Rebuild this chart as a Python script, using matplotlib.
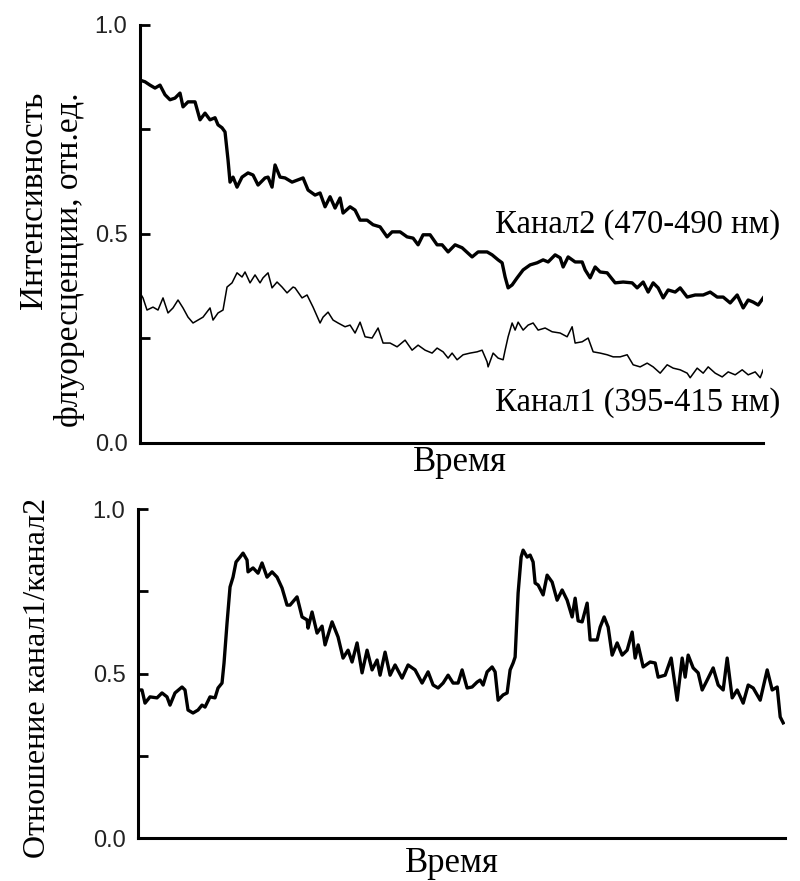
import numpy as np
import matplotlib.pyplot as plt

plt.rcParams['font.family'] = ['Liberation Sans', 'DejaVu Sans']

# Top panel: time (arbitrary units), fluorescence intensity (rel. units)
t_ch2 = [0, 5, 10, 15, 20, 25, 30, 35, 40, 43, 48, 55, 60, 65, 70, 75, 78, 82, 85, 88,
         90, 93, 97, 102, 108, 113, 118, 125, 128, 132, 135, 140, 145, 152,
         163, 168, 175, 180, 185, 190, 195, 200, 203, 210, 215, 220, 227, 233, 240, 247,
         252, 260, 267, 273, 278, 283, 290, 297, 302, 308,
         315, 322, 332, 338, 347, 352, 358, 362, 365, 368, 372, 377, 383, 390, 397, 403,
         408, 415, 420, 423, 428, 435, 442, 445, 450, 455,
         460, 467, 475, 483, 492, 497, 503, 508, 513, 518, 523, 528, 535, 540, 547, 555,
         563, 570, 577, 583, 590, 597, 603, 608, 613, 618, 623]
ch2 = [0.868, 0.864, 0.856, 0.849, 0.856, 0.833, 0.821, 0.825, 0.837, 0.804, 0.816, 0.816,
       0.773, 0.789, 0.773, 0.778, 0.761, 0.754, 0.744, 0.677, 0.624, 0.636, 0.612, 0.636,
       0.646, 0.641, 0.617, 0.634, 0.636, 0.612, 0.665, 0.636, 0.634, 0.624,
       0.634, 0.605, 0.593, 0.598, 0.565, 0.589, 0.562, 0.586, 0.550, 0.565, 0.557, 0.533,
       0.533, 0.522, 0.517, 0.493, 0.505, 0.505, 0.493, 0.490, 0.474, 0.498, 0.498, 0.474,
       0.474, 0.457,
       0.474, 0.467, 0.445, 0.457, 0.457, 0.450, 0.438, 0.431, 0.397, 0.371, 0.378, 0.395,
       0.414, 0.426, 0.431, 0.438, 0.433, 0.450, 0.443, 0.421, 0.445, 0.433, 0.433, 0.414,
       0.395, 0.421,
       0.409, 0.407, 0.383, 0.385, 0.383, 0.371, 0.385, 0.361, 0.383, 0.371, 0.347, 0.366,
       0.361, 0.371, 0.349, 0.354, 0.354, 0.361, 0.349, 0.349, 0.335, 0.354, 0.323, 0.342,
       0.337, 0.330, 0.347]

t_ch1 = [0, 3, 7, 13, 18, 23, 28, 33, 38, 43, 48, 53, 58, 63, 70, 73, 78, 83, 87, 92, 97,
         102, 105, 110, 115, 120, 123, 128, 132, 137, 142, 147, 153,
         155, 162, 167, 173, 180, 183, 188, 193, 198, 205, 210, 215, 220, 225, 232, 238,
         243, 250, 257, 265, 272, 278, 285, 292, 297, 303, 308,
         312, 317, 323, 330, 337, 342, 347, 348, 353, 358, 363, 365, 368, 372, 375, 378,
         383, 388, 393, 398, 405, 412, 420, 427, 432, 435, 442, 448, 453, 460,
         467, 473, 480, 487, 493, 500, 507, 513, 520, 527, 533, 540, 547, 550, 557, 563,
         568, 575, 582, 588, 595, 602, 608, 615, 620, 623]
ch1 = [0.359, 0.347, 0.318, 0.325, 0.318, 0.347, 0.311, 0.323, 0.342, 0.323, 0.301, 0.287,
       0.294, 0.301, 0.323, 0.294, 0.311, 0.318, 0.373, 0.383, 0.407, 0.397, 0.409, 0.383,
       0.402, 0.383, 0.395, 0.407, 0.371, 0.385, 0.373, 0.359, 0.373,
       0.371, 0.347, 0.354, 0.325, 0.287, 0.301, 0.313, 0.294, 0.287, 0.278, 0.282, 0.263,
       0.289, 0.254, 0.251, 0.275, 0.239, 0.239, 0.230, 0.246, 0.222, 0.234, 0.222, 0.215,
       0.227, 0.218, 0.203,
       0.215, 0.199, 0.211, 0.215, 0.218, 0.222, 0.194, 0.182, 0.215, 0.203, 0.199, 0.222,
       0.254, 0.287, 0.270, 0.289, 0.270, 0.282, 0.287, 0.270, 0.275, 0.266, 0.263, 0.254,
       0.278, 0.239, 0.242, 0.251, 0.218, 0.215,
       0.211, 0.206, 0.206, 0.211, 0.187, 0.182, 0.191, 0.182, 0.167, 0.187, 0.179, 0.175,
       0.167, 0.156, 0.179, 0.167, 0.182, 0.167, 0.158, 0.170, 0.163, 0.175, 0.163, 0.170,
       0.156, 0.175]

# Bottom panel: ratio channel1/channel2
t_ratio = [0, 4, 7, 12, 19, 24, 29, 32, 37, 44, 47, 50, 55, 60, 64, 67, 72, 77, 80, 84,
           86, 89, 92, 95, 98, 102, 105, 109, 110, 115, 120, 124, 129, 134, 139, 144, 149,
           152, 159, 164, 169, 170, 174, 179, 184, 187, 194, 200, 205, 210, 214, 219, 224,
           229, 234, 239, 242, 247, 252, 257, 264, 270, 277, 284, 290, 295, 300, 305,
           310, 315, 320, 324, 329, 334, 339, 342, 345, 349, 354, 357, 360, 365, 369, 372,
           375, 377, 380, 383, 385, 389, 392, 395, 397, 400, 405, 409, 414, 419, 424, 429,
           434, 437, 440, 444, 449, 452, 459,
           462, 466, 470, 474, 479, 484, 489, 494, 497, 500, 505, 512, 517, 520, 527, 533,
           539, 544, 547, 550, 555, 560, 564, 569, 575, 580, 585, 589, 594, 599, 605, 610,
           615, 622, 629, 634, 639, 642, 645]
ratio = [0.450, 0.450, 0.410, 0.429, 0.426, 0.441, 0.429, 0.404, 0.441, 0.459, 0.450, 0.389,
         0.380, 0.389, 0.404, 0.398, 0.429, 0.426, 0.456, 0.471, 0.532, 0.653, 0.763, 0.793,
         0.839, 0.854, 0.866, 0.845, 0.809, 0.821, 0.805, 0.836, 0.793, 0.809, 0.793, 0.760,
         0.708,
         0.708, 0.733, 0.672, 0.663, 0.638, 0.687, 0.623, 0.644, 0.587, 0.657, 0.611, 0.547,
         0.571, 0.535, 0.593, 0.502, 0.571, 0.511, 0.541, 0.495, 0.565, 0.495, 0.526, 0.486,
         0.526, 0.511, 0.471, 0.505, 0.465, 0.456, 0.471,
         0.495, 0.471, 0.471, 0.511, 0.456, 0.459, 0.474, 0.480, 0.465, 0.505, 0.520, 0.505,
         0.419, 0.435, 0.441, 0.511, 0.532, 0.550, 0.745, 0.854, 0.875, 0.854, 0.860, 0.839,
         0.775, 0.769, 0.739, 0.799, 0.778, 0.723, 0.754, 0.723, 0.672, 0.729, 0.660, 0.657,
         0.714, 0.602, 0.602,
         0.641, 0.672, 0.641, 0.556, 0.593, 0.556, 0.571, 0.626, 0.547, 0.587, 0.520, 0.535,
         0.532, 0.489, 0.495, 0.547, 0.419, 0.547, 0.489, 0.556, 0.517, 0.502, 0.450, 0.480,
         0.517, 0.465, 0.450, 0.547, 0.426, 0.450, 0.410, 0.465, 0.456, 0.419, 0.511, 0.450,
         0.459, 0.368, 0.350]

yticks = [0.0, 0.5, 1.0]
ytick_labels = ["0.0", "0.5", "1.0"]

serif = ['Liberation Serif', 'DejaVu Serif']

fig = plt.figure(figsize=(8, 8.81), dpi=100)
ax1 = fig.add_axes([0.175, 0.4972, 0.779, 0.4745])
ax2 = fig.add_axes([0.1725, 0.0488, 0.809, 0.3734])

ax1.plot(t_ch2, ch2, color='black', lw=2.4, solid_joinstyle='round')
ax1.plot(t_ch1, ch1, color='black', lw=1.1, solid_joinstyle='round')
ax1.set_xlim(0, 623)
ax2.plot(t_ratio, ratio, color='black', lw=2.4, solid_joinstyle='round')
ax2.set_xlim(0, 647)

for ax in (ax1, ax2):
    ax.set_ylim(0, 1)
    ax.spines['top'].set_visible(False)
    ax.spines['right'].set_visible(False)
    ax.spines['left'].set_linewidth(2.2)
    ax.spines['bottom'].set_linewidth(2.2)
    ax.set_xticks([])
    ax.set_yticks(yticks)
    ax.set_yticklabels(ytick_labels)
    ax.set_yticks([0.25, 0.75], minor=True)
    ax.tick_params(axis='y', which='both', direction='in', length=7, width=2,
                   labelsize=17, labelcolor='#222222', pad=9)

ax1.text(355, 0.522, "Канал2 (470-490 нм)", family=serif, fontsize=23.5,
         ha='left', va='center', clip_on=False)
ax1.text(355, 0.096, "Канал1 (395-415 нм)", family=serif, fontsize=23.5,
         ha='left', va='center', clip_on=False)

fig.text(52 / 800, 1 - 92 / 881, "Интенсивность\nфлуоресценции, отн.ед.", family=serif,
         fontsize=24, rotation=90, ha='center', va='top', multialignment='right',
         linespacing=1.2)
fig.text(38 / 800, 1 - 678 / 881, "Отношение канал1/канал2", family=serif,
         fontsize=23, rotation=90, ha='center', va='center')
fig.text(460 / 800, 1 - 463 / 881, "Время", family=serif, fontsize=25,
         ha='center', va='center')
fig.text(452 / 800, 1 - 864 / 881, "Время", family=serif, fontsize=25,
         ha='center', va='center')

fig.savefig("out.png", dpi=100)
